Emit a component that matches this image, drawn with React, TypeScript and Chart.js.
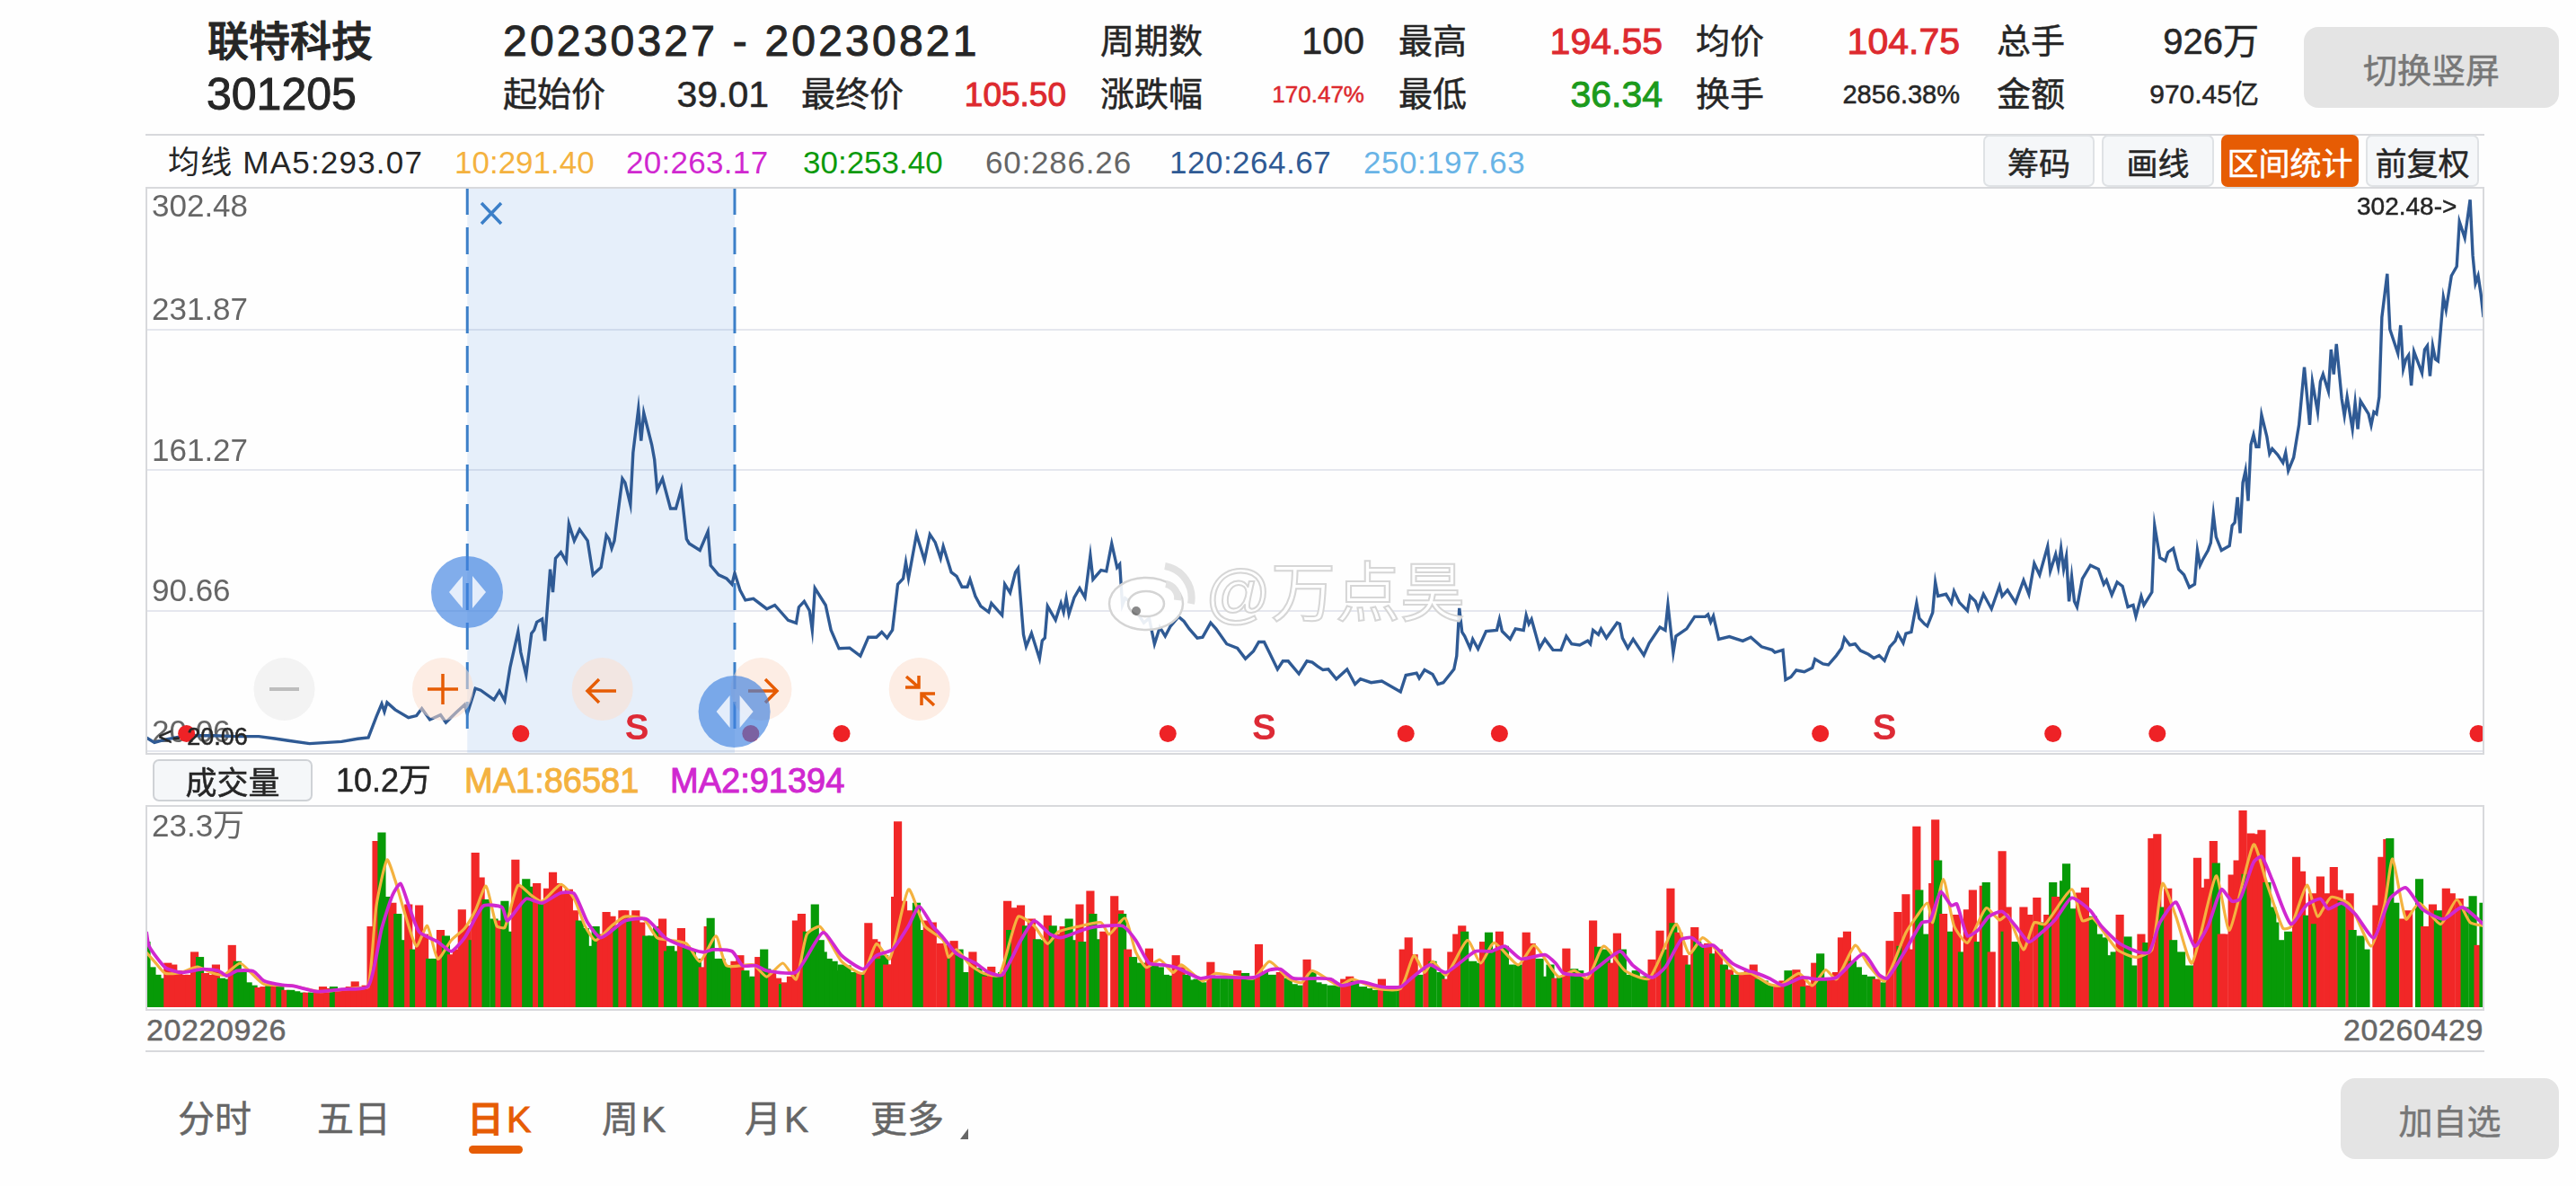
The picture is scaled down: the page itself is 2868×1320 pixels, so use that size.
import React, { useEffect, useRef } from "react";
import { Chart, registerables } from "chart.js";

Chart.register(...registerables);

const FONT = '"Liberation Sans","Noto Sans CJK SC",sans-serif';
const TOTAL_DAYS = 874;

const priceTicks = [20.06, 90.66, 161.27, 231.87];
const priceTopTick = 302.48;
const selectionDays = [120, 220];
const dotDays = [15, 140, 226, 260, 382, 471, 506, 626, 713, 752, 872];
const signalDays = [183.4, 418, 650];

// [trading-day index, price]
const pricePoints: number[][] = [
[0,27],[3,24.5],[7,26],[15,28],[25,28],[34,27.6],[42,27.6],[48,26.5],[53,25.5],[61,24],[73,25],[79,26.4],[83,27],[86,37.5],[88,44],[89,40],[90,44.6],[93,41],[98,37],[101,38],[103,41.6],[106,36],[110,38.4],[112,34.6],[116,39.8],[119,43.5],[120,39],[123,51.7],[125,50.8],[130,46],[132,50.4],[134,45.5],[136,62.2],[139,80.2],[140,69.8],[142,58.4],[144,79.3],[145,81],[146,85],[148,86.5],[149,75.5],[151,111.5],[152,100],[153,117],[155,120],[157,115.4],[158,134.3],[160,125.8],[162,131.5],[165,125.8],[167,108.7],[170,112.5],[172,128.6],[173,126.7],[174,122],[175,125.8],[178,157],[179,155],[181,144],[182,170],[184,192],[185,176],[186,190],[189,174],[190,166.6],[191,151.4],[193,157],[196,142],[198,142],[200,151.4],[202,126.7],[203,124.4],[207,121],[210,130.5],[211,113.4],[214,108.7],[217,106.8],[219,104],[220,109.6],
[222,101],[224,96],[227,96.7],[232,91.6],[235,93.5],[240,85.9],[243,84.5],[244,92.5],[246,95.4],[248,90.7],[249,81],[250,102],[254,93.5],[256,81],[259,71.7],[263,72],[267,68],[270,77.4],[273,77.4],[275,80],[277,77],[279,81],[281,104],[283,106.8],[284,115],[285,107],[288,129],[291,116],[293,129],[295,125],[297,117],[298,123],[301,110],[303,108],[305,102.6],[307,102.6],[308,106.4],[310,98],[312,93],[315,90],[316,94.4],[320,88.4],[321,104],[323,99.7],[325,110],[326,112],[328,78.7],[329,72.7],[331,79.4],[334,66.7],[335,75.7],[336,77],[337,93],[340,86],[342,94.4],[343,90],[344,97],[345,89],[347,97.4],[349,102],[351,97.4],[353,118.4],[354,106.4],[357,111],[359,110.5],[361,124.4],[363,112.4],[364,114],[365,93.6],[366,97],[368,95],[370,90.7],[373,84.6],[375,87],[377,74],[379,82.4],[381,77.9],[383,83],[386,87.7],[388,85.4],[390,81.6],[393,77],[395,77.4],[398,84.6],[400,81.6],[404,74],[408,71.9],[411,66.6],[414,70.4],[416,75],[418,75],[420,69.6],[423,61.3],[425,65.4],[427,65.4],[431,59],[434,65.4],[436,64.8],[438,62.8],[440,61],[442,61.3],[445,56.4],[449,61.3],[452,53.8],[454,56.4],[458,54.6],[462,55.4],[469,50],[471,58.3],[475,59.4],[476,56.8],[478,61],[481,58.8],[483,53.8],[485,54.6],[489,61.3],[490,68],[491,92],[492,80],[493,77.9],[495,71.9],[496,76.4],[498,71.5],[501,80.4],[505,80.9],[506,86.4],[507,80.4],[510,76.4],[512,81.6],[515,80.9],[516,88.4],[517,84],[518,86.4],[521,71.9],[523,76.4],[526,71],[529,70.9],[531,77.9],[533,74],[536,73.4],[539,75.6],[540,74],[541,80.9],[543,78.7],[544,81.6],[546,77],[550,84.6],[551,84],[552,77],[554,71.9],[556,76.4],[560,68.4],[562,74.4],[566,82.4],[568,80.9],[569,93.7],[571,69.6],[572,77.9],[576,81.6],[579,87.7],[583,87.7],
[584,88.8],[585,85],[586,88],[588,76.4],[592,77.7],[597,75.5],[600,77.4],[604,72.6],[608,71],[609,69.8],[612,71],[613,56],[615,57.4],[617,60.8],[620,60],[623,62],[624,66.4],[627,64],[629,63.5],[632,68.2],[634,72],[635,77],[637,73.5],[639,74],[641,70.7],[644,68.8],[646,66.9],[648,68.2],[650,65.6],[652,72.6],[654,75.5],[655,79.2],[657,74.5],[658,79.2],[660,80],[662,94.5],[663,86.9],[665,84],[666,83],[668,89.7],[669,105],[670,98],[673,99],[675,94.5],[676,100.5],[678,94.8],[681,90.7],[682,98],[684,95.4],[685,91.6],[687,99],[690,91.6],[693,103],[694,98],[696,101],[699,94.8],[702,106],[704,99],[706,114.4],[708,108.7],[711,123],[712,110.6],[714,119],[715,112.5],[716,122],[717,111.5],[718,118],[719,95.4],[720,107.8],[721,95.4],[722,92.6],[724,106.8],[727,113.5],[730,111.5],[732,104],[733,106],[735,98.6],[737,105],[739,103],[741,92.6],[743,93.5],[744,87.8],[746,97.9],[747,93.5],[750,100],[751,133.4],[753,117.3],[755,115.7],[756,120],[758,122],[760,111.5],[762,108.7],[764,102.4],[766,104],[767,121],[768,113.5],[769,116.3],[771,121],[772,124.8],[773,139],[774,127.7],[776,121],[779,123.3],[780,133.4],[781,135],[782,147.7],[783,129.6],[784,155],[785,161],[786,145.8],[787,174],[788,179],[789,173],[790,173],[791,189],[793,178],[794,169.5],[795,172],[797,169],[799,165],[800,170],[801,161],[803,167.6],[805,184],[807,213],[809,184],[810,205.6],[812,190.4],[813,205.6],[814,209.4],[816,200.8],[817,221.8],[818,209.4],[819,224.6],[821,197],[822,188.5],[823,198],[825,181.9],[826,195],[827,181.9],[828,196],[831,189.5],[832,183.8],[833,190.5],[834,189.5],[835,198],[836,238],[838,259.8],[839,232],[842,219.9],[843,234],[844,212],[845,217],[846,219],[847,203.7],[848,220.8],[851,210],[852,221.8],[853,223.7],[854,208.5],[855,223.7],[856,217],[857,216],[859,248],[860,241.7],[862,258.8],[864,263.5],[865,286],[867,277.8],[869,297],[870,269],[871,255],[872,258.8],[873,250],[874,238]
];

// [trading-day index, volume in 万 shares, 1 = rising day / 0 = falling day]
const volumeBars: number[][] = [
[0,7.7,0],[2,4.7,0],[4,3.8,0],[6,3.4,0],[8,5.2,1],[10,5,1],[12,4.3,1],[14,3.8,1],[16,3.8,1],[18,6.5,1],[20,5.9,0],[22,4,1],[24,3.8,1],[26,5,1],[28,3.4,0],[30,3.3,0],[32,7.3,1],[34,5.4,0],[36,4.1,0],[38,2.9,0],[40,2.55,0],[42,2.3,1],[44,2.4,1],[46,2.55,0],[48,2.4,1],[50,2.4,0],[52,2,1],[54,2,0],[56,1.85,0],[58,1.7,0],[60,1.7,1],[62,1.7,0],[64,1.85,1],[66,2.4,1],[68,2.2,1],[70,2.4,0],[72,2,1],[74,2.2,1],[76,2.4,1],[78,3,1],[80,2.4,1],[82,2.55,1],[84,9.5,1],[86,19.6,1],[88,20.6,0],[90,13,0],[92,12.3,1],[94,11,0],[96,7.9,0],[98,12.1,1],[100,6.8,0],[102,12,1],[104,8.6,1],[106,5.7,0],[108,5.7,0],[110,9.1,1],[112,8.4,0],[114,6.2,1],[116,6.8,1],[118,11.5,1],[120,9.6,1],[122,7.9,0],[123,18.2,1],[125,15.3,1],[127,12.7,0],[130,10.4,0],[132,10.2,1],[134,12.5,0],[136,8.9,0],[138,17.4,1],[140,14.4,1],[142,15.1,0],[144,14.2,0],[146,14.6,1],[148,12.3,0],[150,14,1],[152,15.9,1],[154,14.6,1],[156,13.5,1],[158,13.9,1],[160,11.4,1],[162,10.2,0],[164,9.3,0],[166,7.2,0],[168,9.5,0],[170,8.6,1],[172,11.2,1],[174,10.7,1],[176,9.5,0],[178,11.4,1],[179,11.4,1],[181,10.5,0],[183,11.4,1],[185,10,1],[187,8.4,0],[189,8.4,0],[191,9.5,0],[193,10.4,1],[195,6.6,0],[196,7.2,0],[198,6.6,0],[200,9.3,1],[202,7.2,0],[204,6.8,0],[206,5.7,0],[208,4.7,1],[210,9.5,1],[211,10.5,0],[213,5.7,0],[215,5.7,0],[217,4.9,0],[218,4.5,0],[220,5.4,1],[222,6.1,1],[224,4.3,0],[225,3.4,0],[227,3.6,0],[229,5.9,1],[231,6.8,0],[232,4.5,0],[234,4.3,1],[236,3.4,1],[238,2.7,0],[239,2.9,1],[241,3.6,1],[243,10.2,1],[245,11,1],[247,8.9,0],[248,8.8,0],[250,12.1,0],[252,7.9,0],[253,6.5,0],[255,5.7,0],[257,5.4,0],[258,4.3,0],[260,5,0],[262,4.9,0],[263,4.1,0],[265,4.1,0],[267,4,1],[269,3.8,0],[270,9.9,1],[272,8,1],[273,7.7,1],[274,5.7,0],[276,6.1,0],[277,5,1],[279,5,1],[280,13,1],[281,21.9,1],[283,12.5,1],[285,11.4,1],[288,12.3,0],[290,9.1,0],[292,10.2,1],[294,10,1],[297,7.5,1],
[299,7.3,1],[301,5.7,0],[302,7.8,1],[304,6.8,0],[306,4.1,0],[309,6.5,1],[311,4.6,0],[313,4.1,0],[314,3.6,1],[316,4.75,1],[318,3.8,0],[320,4.1,0],[322,12.5,1],[323,9.1,0],[325,11.7,1],[327,12,1],[329,9.6,0],[331,10.4,1],[333,8,0],[335,7.9,0],[337,10.8,1],[339,9.6,0],[341,8.6,1],[343,9.5,1],[345,10.4,0],[347,7.9,0],[349,12.1,1],[350,7.7,0],[353,13.7,1],[354,11,0],[356,8,0],[358,8.9,1],[362,13.1,1],[364,11.4,1],[365,11,0],[367,6.8,1],[369,5.9,0],[372,5.2,0],[375,6.9,1],[377,4.9,0],[379,4.7,0],[381,3.8,0],[383,3.7,0],[385,6.1,1],[387,4.7,1],[389,3.8,0],[391,3.2,0],[393,3.3,0],[395,2.9,0],[398,5.3,1],[400,3.4,0],[403,3.4,0],[406,3.4,0],[408,4.3,1],[411,4,0],[414,3.4,0],[416,7.4,1],[418,4.1,0],[421,3.8,0],[424,4.1,1],[427,3.4,0],[429,2.7,0],[431,2.55,0],[434,5.6,1],[436,4.1,0],[438,2.9,0],[440,2.7,0],[443,2.55,0],[445,2.5,0],[448,3.3,1],[450,3.6,1],[452,3.1,0],[455,2.4,0],[457,2.2,0],[459,2,0],[462,3.3,1],[464,2.2,0],[466,2.2,0],[469,2.2,0],[470,6.8,1],[472,8.2,1],[474,6.2,1],[476,3.8,0],[479,6.9,1],[481,5.4,0],[484,4.1,0],[486,3.3,1],[488,6.5,1],[490,8.6,1],[492,9.6,1],[493,8.9,0],[496,5.4,0],[498,5.2,0],[500,7.7,1],[502,8.8,0],[504,6.8,0],[506,8.9,1],[508,7.2,0],[510,5,0],[513,5,0],[516,8.8,1],[518,7.5,1],[521,5.7,0],[523,3.6,0],[525,5,0],[527,3.4,1],[529,3.6,0],[531,6.9,1],[534,4.5,0],[536,4.3,0],[539,3.4,1],[541,10.2,1],[543,7.1,0],[546,6.8,0],[548,5.2,1],[550,8.7,1],[552,6.8,0],[554,3.8,0],[557,4.3,0],[559,3.6,0],[561,3.6,0],[563,5.6,1],[566,9,1],[568,6.8,0],[570,14,1],[571,9.9,0],[573,8.8,1],[575,6.1,1],[577,5,0],[579,9.4,1],[580,7.7,0],[582,7.2,0],[584,7.5,1],[586,6.3,0],[588,6.8,1],[590,5,0],[592,4.4,1],[594,3.8,0],[597,3.8,1],[599,4.3,1],
[601,5,1],[603,3.3,0],[605,3.1,0],[607,2.55,0],[610,2.4,1],[612,3.1,1],[614,4.3,0],[617,4.4,1],[619,3.4,1],[620,2.4,0],[622,2.55,1],[624,5.2,1],[626,6.3,0],[628,3.3,0],[630,3.4,1],[632,4.1,1],[634,8.2,1],[636,8.9,1],[638,5.4,0],[640,4.7,0],[642,3.8,0],[645,3.6,0],[647,3.3,1],[650,2.9,0],[652,7.8,1],[655,11.2,1],[656,7.2,0],[658,13.3,1],[660,6.8,1],[662,21.3,1],[663,13.8,0],[665,8.6,0],[668,14.6,1],[669,22.1,1],[670,17.3,0],[672,11,1],[675,8.9,0],[677,10.9,1],[679,6.5,0],[681,11.5,1],[683,13.8,1],[685,7.7,0],[687,14.3,1],[688,14.7,0],[690,6.5,1],[694,18.4,1],[695,8.9,0],[696,11.8,1],[699,7.7,0],[701,5.4,0],[702,11.8,1],[704,10.9,1],[707,12.9,1],[709,10,0],[711,10.9,1],[713,14.7,0],[714,13,1],[717,14.9,0],[718,16.9,0],[720,11.6,0],[723,13.5,1],[725,14.1,1],[727,10,1],[728,10.7,0],[730,8.6,0],[732,8.2,0],[734,6.1,0],[736,6.5,0],[738,10.9,1],[741,8.3,0],[743,4.9,0],[746,8.6,1],[748,7.6,0],[750,19.9,1],[752,20.4,1],[754,11.8,0],[756,14,1],[758,7.9,0],[761,6.5,0],[764,4.9,0],[767,17.6,1],[769,14.1,1],[771,15.1,1],[773,19.6,1],[774,17,0],[776,8.6,1],[777,8.6,1],[780,15.6,1],[782,17.3,1],[784,23.2,1],[785,15.7,0],[787,20.5,1],[789,20.4,1],[791,20.9,1],[793,14.7,0],[795,11.8,0],[796,10,0],[798,7.9,0],[801,8.9,0],[804,17.7,1],[806,16,1],[808,10.8,0],[810,13.4,1],[811,9.8,0],[813,15.4,1],[816,13.4,1],[818,16.5,1],[820,13.8,1],[821,12.5,0],[824,13.4,1],[825,9.1,0],[828,8.4,0],[830,6.8,0],[834,12,1],[836,17.7,1],[838,19.8,1],[839,19.9,0],[841,12.3,0],[844,10.4,1],[846,11.4,1],[850,15.1,0],[852,9.5,1],[855,12.1,1],[857,11.4,0],[860,14,1],[862,13.4,1],[865,12.8,1],[867,11.8,0],[870,13.1,0],[872,7.3,1],[874,12.3,0]
];

const ma1Points: number[][] = [
[0,6.45],[3,5.4],[7,4],[13,4.1],[19,4.75],[25,4],[29,3.8],[35,5.2],[39,4.1],[44,2.7],[54,2.55],[65,1.85],[79,2.3],[83,2.4],[86,12],[90,17.4],[93,15],[97,10.7],[101,7.2],[105,9.6],[109,5.7],[114,7.9],[119,9.3],[123,11.4],[127,14.3],[131,9.6],[134,9.4],[139,14.4],[144,13.2],[148,12.5],[155,14.5],[160,12.8],[164,9.6],[168,7.9],[174,9.6],[179,10.7],[186,10.4],[191,8.2],[196,7.9],[202,7.5],[207,5.4],[213,8.4],[217,4.9],[227,5],[232,3.6],[238,5.2],[243,3.3],[247,8.6],[252,9.5],[260,5.4],[268,4],[273,7.5],[278,5.7],[285,13.9],[291,9.6],[298,7.9],
[300,5.9],[303,6.8],[308,5],[313,4],[319,3.8],[326,10.7],[332,9.6],[337,7.5],[341,8.9],[348,9.5],[357,10],[360,8.6],[366,10.5],[370,6.5],[374,4.7],[379,5.6],[384,4.1],[387,5],[395,3.1],[400,4],[414,3.4],[420,5.4],[427,3.4],[432,2.9],[436,4.3],[446,2.55],[451,3.3],[460,2.2],[469,2.2],[474,6.1],[478,4.1],[481,5.4],[486,3.8],[494,7.9],[499,5.2],[504,7.6],[513,5],[519,7.3],[528,3.6],[534,4.3],[539,3.4],[545,7.2],[553,4.3],[562,3.4],[572,9.8],[577,6.3],[582,8.2],[587,6.8],[595,4],
[600,4],[607,2.7],[611,2.55],[618,4],[623,2.55],[628,4.4],[632,3.3],[639,7.3],[644,5],[650,3.1],[658,8.8],[662,10.7],[666,12.3],[668,10],[672,15.1],[676,9.6],[681,7.6],[688,11.7],[693,10.3],[696,10.9],[702,6.8],[706,10],[710,9.8],[720,13.9],[724,10.2],[728,10.5],[737,6.8],[744,5.9],[750,6.8],[754,14.6],[759,10.7],[765,5.2],[774,15.5],[779,9.1],[788,19.2],[793,14.6],[799,9.3],[802,9.5],[808,14.4],[812,10.7],[817,13],[824,12.1],[832,7.2],[837,12.1],[840,17.5],[845,10.4],[850,12.3],[858,9.8],[864,12.7],[869,10],[874,9.6]
];

const ma2Points: number[][] = [
[0,8.9],[1,7.2],[7,4.7],[13,4.1],[21,4.5],[27,4.3],[30,3.7],[34,4.3],[40,4.25],[44,3.1],[51,2.6],[55,2.5],[64,1.85],[73,2.1],[83,2.5],[88,9.3],[92,13.2],[95,14.6],[98,12.1],[102,8.9],[109,7.7],[114,6.6],[119,8.2],[126,11.95],[133,11.8],[135,10.2],[142,12.8],[148,12.3],[155,13.5],[160,13.4],[165,10],[170,8.2],[179,10.2],[187,10.4],[194,8.2],[200,7.3],[208,6.5],[212,6.8],[219,6.6],[223,4.9],[228,4.9],[232,4.3],[243,4.15],[253,8.8],[260,6.1],[268,4.5],[273,6.1],[279,6.8],[285,9.6],[289,11.9],[294,9.6],[298,8.2],
[303,6.3],[310,5.2],[315,4.1],[320,3.8],[327,7.9],[332,10.2],[338,8.6],[342,8.2],[350,9.1],[355,9.5],[365,9.6],[370,7.9],[375,5.2],[380,5],[385,4.7],[394,3.4],[398,3.6],[414,3.5],[420,4.4],[424,4.5],[429,3.4],[438,3.4],[443,3.3],[447,2.55],[454,3],[462,2.4],[469,2.4],[473,3.4],[480,5],[486,4.1],[497,6.6],[503,6.6],[508,7.2],[514,5.7],[523,6.2],[527,5.2],[530,4],[539,3.9],[551,6.6],[556,4.9],[563,3.5],[568,4.7],[574,8],[578,8.2],[582,7.2],[586,7.3],[593,5.2],[599,4.3],
[601,4.15],[607,3.4],[612,2.6],[619,3.5],[625,3.3],[632,3.5],[642,6.3],[648,3.8],[651,3.4],[658,6.8],[664,10],[667,10.2],[671,13.6],[675,12],[677,12.2],[681,8.4],[685,9.1],[689,10.7],[694,11.3],[699,9.6],[704,7.7],[708,8.6],[714,10.4],[720,12.9],[727,11.4],[731,9.6],[738,7.5],[745,6.5],[749,6.5],[753,10],[759,12.4],[766,7.2],[771,9.6],[776,13.9],[780,12.5],[783,12.8],[788,17.1],[791,17.8],[795,15],[802,9.8],[808,12.1],[813,12.8],[816,11.6],[821,12.3],[826,11],[833,8.2],[839,12.8],[845,14.1],[851,11.6],[859,10.4],[866,11.8],[874,9.8]
];

const RED = "#f12727";
const GREEN = "#079a07";
const GRAY = "#666666";
const DARK = "#262626";
const ORANGE = "#e65c04";
const BLUE = "#3b7fc8";

const toXY = (rows: number[][]) => rows.map((r) => ({ x: r[0], y: r[1] }));

const flatten = (s: any) => {
  s.width = 0;
  s.paddingTop = 0;
  s.paddingBottom = 0;
  s.paddingLeft = 0;
  s.paddingRight = 0;
};

function labelAxis(values: number[], offset: number, fmt: (v: number) => string, min: number, max: number, z = 0) {
  return {
    position: "left",
    min,
    max,
    z,
    border: { display: false },
    grid: { display: false, drawTicks: false },
    afterBuildTicks: (s: any) => {
      s.ticks = values.map((value) => ({ value }));
    },
    afterFit: flatten,
    ticks: {
      mirror: true,
      autoSkip: false,
      padding: 6,
      labelOffset: offset,
      color: GRAY,
      font: { family: FONT, size: 35 },
      callback: (v: any) => fmt(Number(v)),
    },
  };
}

const selectionPlugin = {
  id: "selection",
  beforeDatasetsDraw(chart: any) {
    const { ctx, chartArea, scales } = chart;
    const a = scales.x.getPixelForValue(selectionDays[0]);
    const b = scales.x.getPixelForValue(selectionDays[1]);
    ctx.save();
    ctx.fillStyle = "rgba(59,130,220,0.12)";
    ctx.fillRect(a, chartArea.top, b - a, chartArea.bottom - chartArea.top);
    ctx.restore();
  },
  afterDatasetsDraw(chart: any) {
    const { ctx, chartArea, scales } = chart;
    ctx.save();
    ctx.strokeStyle = BLUE;
    ctx.lineWidth = 3;
    ctx.setLineDash([30, 14]);
    selectionDays.forEach((d) => {
      const x = scales.x.getPixelForValue(d);
      ctx.beginPath();
      ctx.moveTo(x, chartArea.top);
      ctx.lineTo(x, chartArea.bottom - 15);
      ctx.stroke();
    });
    ctx.setLineDash([]);
    ctx.fillStyle = "#dd2a35";
    ctx.font = `bold 40px ${FONT}`;
    ctx.textAlign = "center";
    ctx.textBaseline = "middle";
    signalDays.forEach((d) => {
      ctx.fillText("S", scales.x.getPixelForValue(d), scales.y.getPixelForValue(31));
    });
    ctx.restore();
  },
};

function T(props: any) {
  const { x, r, y, size = 38, color = DARK, weight = 400, text, spacing, stroke = 0.5 } = props;
  const style: any = {
    position: "absolute",
    top: y,
    transform: "translateY(-50%)",
    fontSize: size,
    color,
    fontWeight: weight,
    whiteSpace: "nowrap",
    lineHeight: 1,
    letterSpacing: spacing,
    WebkitTextStroke: `${weight >= 500 ? 1 : stroke}px ${color}`,
  };
  if (r !== undefined) style.right = 2868 - r;
  else style.left = x;
  return <div style={style}>{text}</div>;
}

function Box(props: any) {
  const { x, y, w, h, bg = "#f5f7f9", border = "2px solid #dfe2e5", radius = 7, color = DARK, size = 35, text } = props;
  return (
    <div
      style={{
        position: "absolute",
        left: x,
        top: y,
        width: w,
        height: h,
        boxSizing: "border-box",
        background: bg,
        border,
        borderRadius: radius,
        color,
        fontSize: size,
        WebkitTextStroke: `0.5px ${color}`,
        display: "flex",
        alignItems: "center",
        justifyContent: "center",
        whiteSpace: "nowrap",
      }}
    >
      {text}
    </div>
  );
}

function Line(props: any) {
  const { x, y, w, h, c = "#d8d9dc" } = props;
  return <div style={{ position: "absolute", left: x, top: y, width: w, height: h, background: c }} />;
}

function Overlays() {
  const peach = "rgba(251,222,205,0.55)";
  const circles = [
    { cx: 316.5, fill: "rgba(238,238,238,0.7)" },
    { cx: 493, fill: peach },
    { cx: 670.7, fill: peach },
    { cx: 847.5, fill: peach },
    { cx: 1023.7, fill: peach },
  ];
  const orange = { stroke: ORANGE, strokeWidth: 3.5, fill: "none" };
  return (
    <svg width={2868} height={1320} style={{ position: "absolute", left: 0, top: 0, pointerEvents: "none" }}>
      {circles.map((c, i) => (
        <ellipse key={i} cx={c.cx} cy={767} rx={34} ry={35} fill={c.fill} />
      ))}
      <line x1={300} x2={333} y1={767} y2={767} stroke="#bdbdbd" strokeWidth={4} />
      <g {...orange}>
        <path d="M476 767h34M493 750v34" />
        <path d="M654 769h32M667 756l-13 13l13 13" />
        <path d="M833 769h32M852 756l13 13l-13 13" />
        <path d="M1009 753L1023 765M1023 752V765H1008M1040 785L1026 772M1026 785V772H1041" />
      </g>
      {[520, 817.6].map((x, i) => {
        const cy = i === 0 ? 659 : 792;
        return (
          <g key={i}>
            <circle cx={x} cy={cy} r={40} fill="rgba(64,130,225,0.66)" />
            <path d={`M${x - 5} ${cy - 18}v36l-15 -18z`} fill="rgba(255,255,255,0.8)" />
            <path d={`M${x + 6} ${cy - 18}v36l15 -18z`} fill="rgba(255,255,255,0.8)" />
          </g>
        );
      })}
      <path d="M536 226l22 23M558 226l-22 23" stroke={BLUE} strokeWidth={3.5} fill="none" />
      <g fill="rgba(255,255,255,0.9)" stroke="#d4d4d4" strokeWidth={2.5}>
        <ellipse cx={1276} cy={672} rx={41} ry={29} />
        <ellipse cx={1276} cy={672} rx={20} ry={14} />
      </g>
      <circle cx={1265} cy={680} r={5} fill="#3a3a3a" opacity={0.6} />
      <g fill="none" stroke="#e2e2e2" strokeWidth={8}>
        <path d="M1297 630a36 36 0 0 1 29 42" />
        <path d="M1298 650a16 16 0 0 1 13 18" />
      </g>
    </svg>
  );
}

export default function App() {
  const priceRef = useRef<HTMLCanvasElement>(null);
  const volumeRef = useRef<HTMLCanvasElement>(null);

  useEffect(() => {
    const yMin = 19.3;
    const yMax = 303;
    const volMax = 23.76;
    const price = new Chart(priceRef.current as any, {
      type: "line",
      plugins: [selectionPlugin],
      data: {
        datasets: [
          {
            label: "close",
            data: toXY(pricePoints),
            borderColor: "#2f5a94",
            borderWidth: 3.4,
            pointRadius: 0,
            tension: 0,
            order: 2,
          },
          {
            type: "scatter",
            label: "signals",
            data: dotDays.map((d) => ({ x: d, y: 29 })),
            backgroundColor: "#ee2226",
            borderWidth: 0,
            pointRadius: 9.5,
            order: 1,
          },
        ],
      } as any,
      options: {
        animation: false,
        responsive: false,
        devicePixelRatio: 1,
        layout: { padding: 0, autoPadding: false },
        plugins: { legend: { display: false }, tooltip: { enabled: false } },
        scales: {
          x: { type: "linear", min: 0, max: TOTAL_DAYS, display: false },
          y: {
            position: "left",
            min: yMin,
            max: yMax,
            border: { display: false },
            grid: { color: "#e5e7ee", lineWidth: 2, drawTicks: false },
            afterBuildTicks: (s: any) => {
              s.ticks = priceTicks.map((value) => ({ value }));
            },
            afterFit: flatten,
            ticks: {
              mirror: true,
              autoSkip: false,
              padding: 6,
              labelOffset: -20,
              color: GRAY,
              font: { family: FONT, size: 35 },
              callback: (v: any) => Number(v).toFixed(2),
            },
          },
          yTop: labelAxis([priceTopTick], 21, (v) => v.toFixed(2), yMin, yMax),
        },
      } as any,
    });

    const volume = new Chart(volumeRef.current as any, {
      type: "bar",
      data: {
        datasets: [
          {
            type: "line",
            label: "MA1",
            data: toXY(ma1Points),
            borderColor: "#f4b23f",
            borderWidth: 3.2,
            pointRadius: 0,
            tension: 0.2,
            order: 2,
          },
          {
            type: "line",
            label: "MA2",
            data: toXY(ma2Points),
            borderColor: "#d028d0",
            borderWidth: 3.8,
            pointRadius: 0,
            tension: 0.2,
            order: 1,
          },
          {
            type: "bar",
            label: "volume",
            data: toXY(volumeBars),
            backgroundColor: volumeBars.map((r) => (r[2] ? RED : GREEN)),
            barThickness: 8.5,
            grouped: false,
            order: 3,
          },
        ],
      } as any,
      options: {
        animation: false,
        responsive: false,
        devicePixelRatio: 1,
        layout: { padding: 0, autoPadding: false },
        plugins: { legend: { display: false }, tooltip: { enabled: false } },
        scales: {
          x: { type: "linear", offset: false, min: 0, max: TOTAL_DAYS, display: false },
          y: labelAxis([23.3], 20, (v) => `${v.toFixed(1)}万`, 0, volMax),
          yZero: labelAxis([0], -13, () => "0", 0, volMax, 1),
        },
      } as any,
    });

    return () => {
      price.destroy();
      volume.destroy();
    };
  }, []);

  return (
    <div
      style={{
        position: "fixed",
        left: 0,
        top: 0,
        width: 2868,
        height: 1320,
        overflow: "hidden",
        background: "#fefefe",
        fontFamily: FONT,
      }}
    >
      <T x={231} y={46} size={46} weight={500} text="联特科技" />
      <T x={230} y={105} size={50} weight={500} text="301205" />
      <T x={560} y={46} size={48} weight={500} spacing={3.2} text="20230327  - 20230821" />
      <T x={1225} y={46} text="周期数" />
      <T r={1519} y={46} size={42} text="100" />
      <T x={1557} y={46} text="最高" />
      <T r={1851} y={46} size={41} color="#dd2a2f" weight={500} text="194.55" />
      <T x={1888} y={46} text="均价" />
      <T r={2182} y={46} size={41} color="#dd2a2f" weight={500} text="104.75" />
      <T x={2223} y={46} text="总手" />
      <T r={2515} y={46} size={40} text="926万" />

      <T x={560} y={105} text="起始价" />
      <T r={856} y={105} size={41} text="39.01" />
      <T x={892} y={105} text="最终价" />
      <T r={1187} y={105} size={37} color="#dd2a2f" weight={500} text="105.50" />
      <T x={1225} y={105} text="涨跌幅" />
      <T r={1519} y={105} size={26} color="#dd2a2f" text="170.47%" />
      <T x={1557} y={105} text="最低" />
      <T r={1851} y={105} size={41} color="#1c9a1c" weight={500} text="36.34" />
      <T x={1888} y={105} text="换手" />
      <T r={2182} y={105} size={29} text="2856.38%" />
      <T x={2223} y={105} text="金额" />
      <T r={2515} y={105} size={30} text="970.45亿" />

      <Box x={2565} y={30} w={284} h={90} bg="#e4e4e4" border="none" radius={16} color="#777" size={38} text="切换竖屏" />

      <Line x={162} y={149} w={2604} h={2} />
      <T x={187} y={180} size={35} spacing={1.2} stroke={0} text="均线 MA5:293.07" />
      <T x={506} y={180} size={35} stroke={0} color="#f4b23f" text="10:291.40" />
      <T x={697} y={180} size={35} stroke={0} color="#d028d0" spacing={0.3} text="20:263.17" />
      <T x={894} y={180} size={35} stroke={0} color="#0c9a0c" text="30:253.40" />
      <T x={1097} y={180} size={35} stroke={0} color="#666" spacing={0.8} text="60:286.26" />
      <T x={1302} y={180} size={35} stroke={0} color="#2f5a94" spacing={0.5} text="120:264.67" />
      <T x={1518} y={180} size={35} stroke={0} color="#69b4e6" spacing={0.5} text="250:197.63" />
      <Box x={2208} y={150} w={124} h={58} text="筹码" />
      <Box x={2340} y={150} w={125} h={58} text="画线" />
      <Box x={2473} y={150} w={153} h={58} bg={ORANGE} border="none" color="#fff" text="区间统计" />
      <Box x={2634} y={150} w={126} h={58} text="前复权" />

      <div style={{ position: "absolute", left: 163, top: 209 }}>
        <canvas ref={priceRef} width={2602} height={629} />
      </div>
      <Line x={162} y={208} w={2604} h={2} />
      <Line x={162} y={838} w={2604} h={2} />
      <Line x={162} y={208} w={2} h={632} />
      <Line x={2764} y={208} w={2} h={632} />
      <T x={2624} y={230} size={28} text="302.48->" />
      <T x={176} y={820} size={27} text="<- 20.06" />

      <Box x={170} y={845} w={178} h={47} border="2px solid #cfd2d6" text="成交量" />
      <T x={374} y={869} size={36} text="10.2万" />
      <T x={517} y={869} size={38} color="#f4b23f" weight={500} text="MA1:86581" />
      <T x={746} y={869} size={38} color="#d028d0" weight={500} text="MA2:91394" />

      <div style={{ position: "absolute", left: 163, top: 897 }}>
        <canvas ref={volumeRef} width={2602} height={224} />
      </div>
      <Line x={162} y={896} w={2604} h={2} />
      <Line x={162} y={1123} w={2604} h={2} />
      <Line x={162} y={896} w={2} h={229} />
      <Line x={2764} y={896} w={2} h={229} />
      <T x={163} y={1146} size={34} color={GRAY} spacing={0.6} text="20220926" />
      <T r={2765} y={1146} size={34} color={GRAY} spacing={0.6} text="20260429" />
      <Line x={162} y={1169} w={2604} h={2} />

      <T x={198} y={1246} size={41} color={GRAY} text="分时" />
      <T x={353} y={1246} size={41} color={GRAY} text="五日" />
      <T x={520} y={1246} size={41} color={ORANGE} weight={500} spacing={3} text="日K" />
      <T x={670} y={1246} size={41} color={GRAY} spacing={3} text="周K" />
      <T x={829} y={1246} size={41} color={GRAY} spacing={3} text="月K" />
      <T x={969} y={1246} size={41} color={GRAY} text="更多" />
      <div
        style={{
          position: "absolute",
          left: 1069,
          top: 1256,
          width: 0,
          height: 0,
          borderLeft: "9px solid transparent",
          borderBottom: "12px solid #666",
        }}
      />
      <div style={{ position: "absolute", left: 522, top: 1275, width: 60, height: 9, borderRadius: 5, background: ORANGE }} />
      <Box x={2606} y={1200} w={243} h={90} bg="#e4e4e4" border="none" radius={16} color="#777" size={38} text="加自选" />

      <Overlays />
      <div
        style={{
          position: "absolute",
          left: 1342,
          top: 660,
          transform: "translateY(-50%)",
          fontSize: 72,
          lineHeight: 1,
          color: "rgba(255,255,255,0.88)",
          WebkitTextStroke: "2px #d6d6d6",
          whiteSpace: "nowrap",
        }}
      >
        @万点昊
      </div>
    </div>
  );
}
